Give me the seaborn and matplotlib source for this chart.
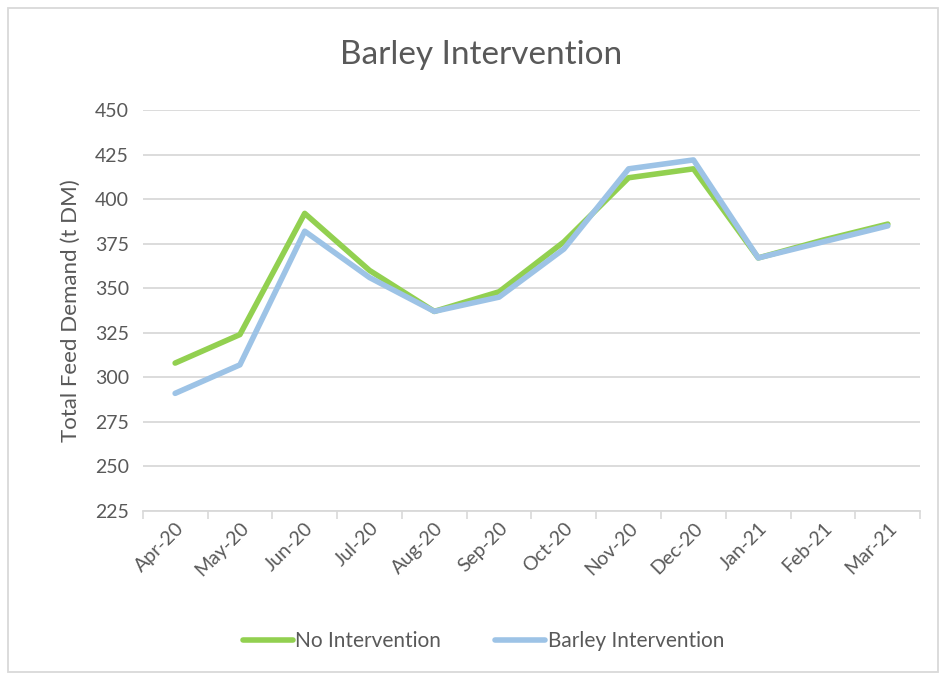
import numpy as np
import pandas as pd
import matplotlib
matplotlib.use('Agg')
import matplotlib.pyplot as plt
import matplotlib.patches as mpatches
from matplotlib.ticker import FixedLocator
import seaborn as sns

# ── data ──────────────────────────────────────────────────────────────────
months = ['Apr-20', 'May-20', 'Jun-20', 'Jul-20', 'Aug-20', 'Sep-20',
          'Oct-20', 'Nov-20', 'Dec-20', 'Jan-21', 'Feb-21', 'Mar-21']
no_intervention = [308, 324, 392, 360, 337, 348, 376, 412, 417, 367, 377, 386]
barley_intervention = [291, 307, 382, 356, 337, 345, 372, 417, 422, 367, 376, 385]

series_names = ['No Intervention', 'Barley Intervention']
colors = ['#92D050', '#9DC3E6']

df = pd.concat([
    pd.DataFrame({'month': months, 'demand': no_intervention, 'series': series_names[0]}),
    pd.DataFrame({'month': months, 'demand': barley_intervention, 'series': series_names[1]}),
])

# ── plot ──────────────────────────────────────────────────────────────────
sns.set_theme(style='white')
plt.rcParams['font.family'] = ['Lato', 'DejaVu Sans']
grey = '#595959'

fig = plt.figure(figsize=(9.39, 6.75), dpi=100)
ax = fig.add_axes([0.152, 0.243, 0.828, 0.594])

sns.lineplot(data=df, x='month', y='demand', hue='series', hue_order=series_names,
             palette=colors, linewidth=4, sort=False, ax=ax,
             solid_capstyle='round', solid_joinstyle='round')

ax.set_xlim(-0.5, len(months) - 0.5)
ax.set_ylim(225, 450)
ax.set_yticks(np.arange(225, 451, 25))
ax.yaxis.grid(True, color='#d9d9d9', linewidth=1.3)
ax.set_axisbelow(True)

# tick marks between categories, labels at centres
ax.xaxis.set_minor_locator(FixedLocator(np.arange(-0.5, len(months), 1)))
ax.tick_params(axis='x', which='minor', length=6, width=1.2, color='#d9d9d9', direction='out', bottom=True)
ax.tick_params(axis='x', which='major', length=0, labelsize=14, colors=grey, pad=6)
ax.tick_params(axis='y', length=0, labelsize=14, colors=grey, pad=10)
plt.setp(ax.get_xticklabels(), rotation=45, ha='right', rotation_mode='anchor')

for s in ['top', 'right', 'left']:
    ax.spines[s].set_visible(False)
ax.spines['bottom'].set_color('#d9d9d9')
ax.spines['bottom'].set_linewidth(1.3)

ax.set_xlabel('')
ax.set_ylabel('Total Feed Demand (t DM)', fontsize=16, color=grey, labelpad=10)
fig.text(0.512, 0.918, 'Barley Intervention', ha='center', va='center', fontsize=24, color=grey)

handles, labels = ax.get_legend_handles_labels()
ax.legend(handles, labels, loc='center', bbox_to_anchor=(0.515, 0.05), bbox_transform=fig.transFigure,
          ncol=2, frameon=False, fontsize=15, labelcolor=grey, handlelength=2.4,
          handletextpad=0.1, columnspacing=2.6)

# chart border
fig.patches.append(mpatches.Rectangle((8 / 939, 3 / 675), 930 / 939, 664 / 675,
                                      transform=fig.transFigure, fill=False,
                                      edgecolor='#d9d9d9', linewidth=1.3))

plt.savefig('out.png', dpi=100)
plt.close()
